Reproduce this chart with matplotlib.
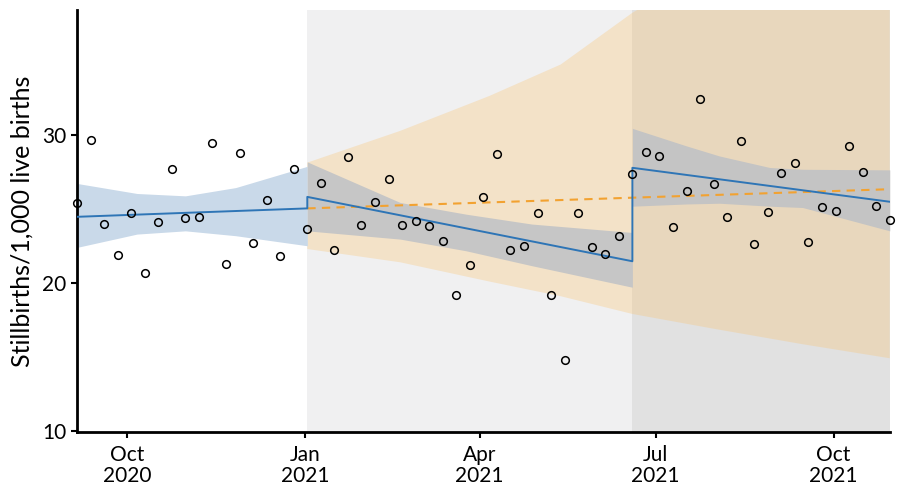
import matplotlib
matplotlib.use("Agg")
import matplotlib.pyplot as plt
import numpy as np
import pandas as pd

plt.rcParams['font.family'] = ['Lato', 'DejaVu Sans']

# weekly observations
dates = pd.date_range('2020-09-05', periods=61, freq='7D')
rate = [25.4, 29.7, 24.0, 21.9, 24.75, 20.7, 24.15, 27.7, 24.4, 24.45, 29.5, 21.3,
        28.8, 22.7, 25.6, 21.8, 27.75, 23.65,
        26.75, 22.25, 28.5, 23.95, 25.45, 27.05, 23.9, 24.2, 23.85, 22.85, 19.2,
        21.2, 25.8, 28.75, 22.25, 22.5, 24.75, 19.2, 14.8, 24.75, 22.45, 21.95, 23.2,
        27.4, 28.85, 28.6, 23.8, 26.25, 32.45, 26.7, 24.45, 29.6, 22.65, 24.8,
        27.45, 28.1, 22.8, 25.15, 24.9, 29.3, 27.5, 25.2, 24.25]

# period boundaries
p2_start = pd.Timestamp('2021-01-02')
p3_start = pd.Timestamp('2021-06-19')
end = pd.Timestamp('2021-10-30')

# fitted segmented line
fit_dates = pd.to_datetime(['2020-09-05', '2021-01-02', '2021-01-02',
                            '2021-06-19', '2021-06-19', '2021-10-30'])
fit_vals = [24.48, 25.05, 25.83, 21.47, 27.8, 25.5]

# counterfactual (pre-period trend)
cf_dates = pd.to_datetime(['2021-01-02', '2021-10-30'])
cf_vals = [25.05, 26.35]

# confidence bands
b1_dates = pd.to_datetime(['2020-09-05', '2020-10-06', '2020-10-31', '2020-11-26', '2021-01-02'])
b1_lo = [22.41, 23.31, 23.53, 23.2, 22.52]
b1_hi = [26.74, 26.06, 25.9, 26.46, 27.9]

b2_dates = pd.to_datetime(['2021-01-02', '2021-02-19', '2021-03-25', '2021-04-28', '2021-06-19'])
b2_lo = [23.53, 22.97, 22.18, 21.17, 19.71]
b2_hi = [28.2, 25.45, 24.66, 23.99, 23.42]

b3_dates = pd.to_datetime(['2021-06-19', '2021-07-17', '2021-08-03', '2021-08-29', '2021-09-15', '2021-10-30'])
b3_lo = [25.2, 25.35, 25.4, 25.2, 25.11, 23.53]
b3_hi = [30.47, 29.28, 28.6, 27.82, 27.7, 27.66]

cf_band_dates = pd.to_datetime(['2021-01-02', '2021-02-19', '2021-04-06', '2021-05-13',
                                '2021-06-19', '2021-07-31', '2021-09-15', '2021-10-30'])
cf_lo = [22.3, 21.4, 20.1, 19.1, 17.9, 16.9, 15.85, 14.9]
cf_hi = [28.15, 30.3, 32.66, 34.8, 38.3, 41.5, 46.0, 50.0]

fig = plt.figure(figsize=(9, 4.91), dpi=100)
ax = fig.add_axes([0.0856, 0.12, 0.903, 0.86])

ax.axvspan(p2_start, p3_start, color='#f0f0f1', lw=0, zorder=0)
ax.axvspan(p3_start, end, color='#e1e1e1', lw=0, zorder=0)

ax.fill_between(cf_band_dates, cf_lo, cf_hi, color='#fac36f', alpha=0.31, lw=0, zorder=1)
ax.fill_between(b1_dates, b1_lo, b1_hi, color='#c9d9e9', lw=0, zorder=2)
ax.fill_between(b2_dates, b2_lo, b2_hi, color='#c6c6c6', lw=0, zorder=2)
ax.fill_between(b3_dates, b3_lo, b3_hi, color='#c4c4c4', lw=0, zorder=2)

ax.plot(cf_dates, cf_vals, '--', color='#f2a231', lw=1.5, dashes=(4, 3), zorder=3)
ax.plot(fit_dates, fit_vals, '-', color='#2e75b6', lw=1.4, zorder=4)

ax.plot(dates, rate, 'o', mfc='none', mec='black', mew=1.1, ms=5.5, zorder=5, clip_on=False)

ax.set_xlim(dates[0], dates[-1])
ax.set_ylim(9.9, 38.5)
ax.set_yticks([10, 20, 30])

ticks = pd.to_datetime(['2020-10-01', '2021-01-01', '2021-04-01', '2021-07-01', '2021-10-01'])
ax.set_xticks(ticks)
ax.set_xticklabels(['Oct\n2020', 'Jan\n2021', 'Apr\n2021', 'Jul\n2021', 'Oct\n2021'], linespacing=1.05)

ax.set_ylabel('Stillbirths/1,000 live births', fontsize=18)
ax.yaxis.set_label_coords(-0.053, 0.5)
ax.tick_params(axis='both', labelsize=15, width=1.5, length=4.5, direction='out', color='black')
ax.tick_params(axis='x', pad=5)
ax.tick_params(axis='y', pad=3)
for s in ['top', 'right']:
    ax.spines[s].set_visible(False)
for s in ['left', 'bottom']:
    ax.spines[s].set_linewidth(2)

fig.savefig('out.png', dpi=100)
